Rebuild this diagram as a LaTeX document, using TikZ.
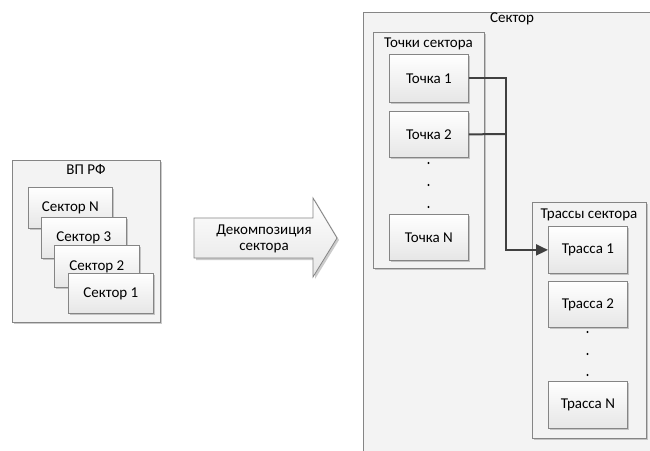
\documentclass[tikz,border=0pt]{standalone}
\usepackage{fontspec}
\setmainfont{Carlito}
\usetikzlibrary{shadows,arrows.meta}
\definecolor{bordc}{HTML}{858585}
\definecolor{contf}{HTML}{F3F3F3}
\definecolor{boxb}{HTML}{E6E6E6}
\definecolor{linec}{HTML}{404040}
\tikzset{
  every node/.style={font=\fontsize{15}{17}\selectfont},
  shad/.style={drop shadow={shadow xshift=2pt, shadow yshift=-2pt, fill=black!45, opacity=0.45}},
  contbox/.style={draw=bordc, fill=contf, line width=0.8pt, shad, anchor=north west, inner sep=0pt},
  itembox/.style={draw=bordc, top color=white, bottom color=boxb, line width=0.8pt, shad, anchor=north west, inner sep=0pt, align=center},
  ttl/.style={inner sep=0pt, anchor=center},
  conn/.style={draw=linec, line width=2pt},
  dotn/.style={circle, fill=black, inner sep=0pt, minimum size=2.2pt, font=\tiny},
}
\begin{document}
\begin{tikzpicture}[x=1pt, y=-1pt]
\useasboundingbox (0,0) rectangle (650,450);
\fill[white] (0,0) rectangle (650,450);
% left container
\node[contbox, minimum width=148pt, minimum height=162pt] (vp) at (12,160) {};
\node[ttl] (vpt) at (86,169) {ВП РФ};
\node[itembox, minimum width=84pt, minimum height=41pt] (sN) at (28,187) {Сектор N};
\node[itembox, minimum width=85pt, minimum height=41pt] (s3) at (41,217) {Сектор 3};
\node[itembox, minimum width=85pt, minimum height=42pt] (s2) at (54,245) {Сектор 2};
\node[itembox, minimum width=85pt, minimum height=40pt] (s1) at (68,273) {Сектор 1};
% big arrow
\path[draw=bordc, line width=0.8pt, top color=white, bottom color=boxb, shad]
  (194,218) -- (313,218) -- (313,198) -- (337,238) -- (313,277) -- (313,258) -- (194,258) -- cycle;
\node[ttl, align=center, font=\fontsize{15}{16}\selectfont] (dec) at (264,239) {Декомпозиция\\сектора};
% right: sector container (clipped)
\begin{scope}
\clip (0,0) rectangle (650,450);
\node[contbox, minimum width=298pt, minimum height=460pt] (sec) at (363,12) {};
\end{scope}
\node[ttl] (sect) at (512,19) {Сектор};
% points
\node[contbox, minimum width=111pt, minimum height=236pt] (pts) at (373,32) {};
\node[ttl] (ptst) at (428.5,44) {Точки сектора};
\node[itembox, minimum width=79pt, minimum height=48pt] (t1) at (389,54) {Точка 1};
\node[itembox, minimum width=79pt, minimum height=46pt] (t2) at (389,111) {Точка 2};
\node[itembox, minimum width=79pt, minimum height=46pt] (tN) at (389,214) {Точка N};
\node[dotn] (pd1) at (428.5,163) {};
\node[dotn] (pd2) at (428.5,185) {};
\node[dotn] (pd3) at (428.5,207) {};
% routes
\node[contbox, minimum width=114pt, minimum height=236pt] (trs) at (532,202) {};
\node[ttl] (trst) at (589,215) {Трассы сектора};
\node[itembox, minimum width=79pt, minimum height=47pt] (r1) at (548,226) {Трасса 1};
\node[itembox, minimum width=79pt, minimum height=46pt] (r2) at (548,281) {Трасса 2};
\node[itembox, minimum width=79pt, minimum height=47pt] (rN) at (548,381) {Трасса N};
\node[dotn] (rd1) at (587.5,332) {};
\node[dotn] (rd2) at (587.5,354) {};
\node[dotn] (rd3) at (587.5,375) {};
% connectors
\coordinate (jn) at (505,134);
\draw[conn] (t2.east) -- (jn);
\draw[conn, -{Triangle[length=12pt, width=11pt]}] (t1.east) -- ++(37,0) |- (r1.west);
\end{tikzpicture}
\end{document}
